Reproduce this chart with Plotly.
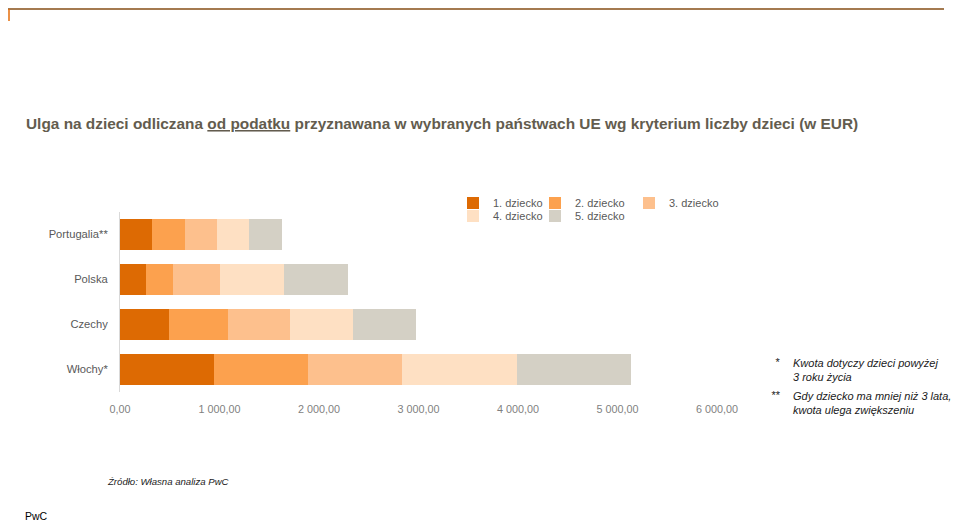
import plotly.graph_objects as go

countries = ["Portugalia**", "Polska", "Czechy", "Włochy*"]
series_names = ["1. dziecko", "2. dziecko", "3. dziecko", "4. dziecko", "5. dziecko"]
child1 = [325, 265, 496, 945]
child2 = [325, 265, 585, 945]
child3 = [325, 476, 630, 945]
child4 = [325, 643, 630, 1150]
child5 = [325, 643, 630, 1150]
x_ticks = [0, 1000, 2000, 3000, 4000, 5000, 6000]

values = [child1, child2, child3, child4, child5]
colors = ["#DD6A03", "#FCA14E", "#FDC08D", "#FEE0C3", "#D4D0C5"]
legend_ids = ["legend", "legend2", "legend3", "legend4", "legend5"]
# legend entry text start (page px) and row centre (page px)
legend_pos = [(493, 203), (575, 203), (669, 203), (493, 216), (575, 216)]

# page (screenshot) geometry; the figure div sits 8 px in from the page corner
OFF = 8
PW, PH = 960, 523
L, R, T, B = 120, 717, 212, 392
FONT = "Liberation Sans, Arial"

def px(x):
    return (x - L) / (R - L)

def py(y):
    return (B - y) / (B - T)

fig = go.Figure()
for name, vals, col, lg in zip(series_names, values, colors, legend_ids):
    fig.add_trace(go.Bar(
        y=countries, x=vals, name=name, orientation="h",
        marker=dict(color=col, line=dict(width=0)),
        legend=lg,
    ))

layout = dict(
    width=PW - OFF, height=PH - OFF,
    barmode="stack", bargap=0.333,
    plot_bgcolor="white", paper_bgcolor="white",
    margin=dict(l=L - OFF, r=PW - R, t=T - OFF, b=PH - B, pad=0, autoexpand=False),
    separators=", ",
    font=dict(family=FONT, size=11, color="#595959"),
    xaxis=dict(range=[0, 6000], tickvals=x_ticks, tickformat=",.2f",
               showgrid=False, zeroline=False, showline=False, automargin=False,
               ticks="", ticklabelstandoff=9,
               tickfont=dict(family=FONT, size=10.8, color="#7F7F7F")),
    yaxis=dict(categoryorder="array", categoryarray=countries, autorange="reversed",
               showgrid=False, zeroline=False, showline=True, linecolor="#D9D9D9",
               linewidth=1, ticks="", ticklabelstandoff=9, automargin=False,
               tickfont=dict(family=FONT, size=11.2, color="#595959")),
    showlegend=True,
)
for lg, (tx, ty) in zip(legend_ids, legend_pos):
    layout[lg] = dict(orientation="h", xref="paper", yref="paper",
                      x=px(tx - 40), y=py(ty), xanchor="left", yanchor="middle",
                      bgcolor="rgba(0,0,0,0)", borderwidth=0,
                      font=dict(family=FONT, size=11, color="#595959"))
fig.update_layout(**layout)

# Title
fig.add_annotation(
    text="<b>Ulga na dzieci odliczana <u>od podatku</u> przyznawana w wybranych państwach UE wg kryterium liczby dzieci (w EUR)</b>",
    xref="paper", yref="paper", x=px(24), y=py(123), xanchor="left", yanchor="middle",
    showarrow=False, font=dict(family=FONT, size=15.4, color="#635C4E"))

# Notes
note_font = dict(family=FONT, size=11.0, color="#1A1A1A")
fig.add_annotation(text="<i>*</i>", xref="paper", yref="paper", x=px(773), y=py(362),
                   xanchor="left", yanchor="middle", showarrow=False, font=note_font)
fig.add_annotation(text="<i>Kwota dotyczy dzieci powyżej<br>3 roku życia</i>", xref="paper", yref="paper",
                   x=px(791), y=py(370), xanchor="left", yanchor="middle", showarrow=False,
                   align="left", font=note_font)
fig.add_annotation(text="<i>**</i>", xref="paper", yref="paper", x=px(769), y=py(395),
                   xanchor="left", yanchor="middle", showarrow=False, font=note_font)
fig.add_annotation(text="<i>Gdy dziecko ma mniej niż 3 lata,<br>kwota ulega zwiększeniu</i>", xref="paper", yref="paper",
                   x=px(791), y=py(403), xanchor="left", yanchor="middle", showarrow=False,
                   align="left", font=note_font)

# Source and footer
fig.add_annotation(text="<i>Źródło: Własna analiza PwC</i>", xref="paper", yref="paper",
                   x=px(105), y=py(481), xanchor="left", yanchor="middle", showarrow=False,
                   font=dict(family=FONT, size=9.6, color="#1A1A1A"))
fig.add_annotation(text="PwC", xref="paper", yref="paper",
                   x=px(23), y=py(516), xanchor="left", yanchor="middle", showarrow=False,
                   font=dict(family=FONT, size=10.5, color="#000000"))

# Top decoration
fig.add_shape(type="line", xref="paper", yref="paper", x0=px(8), x1=px(944), y0=py(9), y1=py(9),
              line=dict(color="#A47A50", width=2))
fig.add_shape(type="line", xref="paper", yref="paper", x0=px(9), x1=px(9), y0=py(9), y1=py(21),
              line=dict(color="#E46C0A", width=1.5))

fig.write_html("out.html")
